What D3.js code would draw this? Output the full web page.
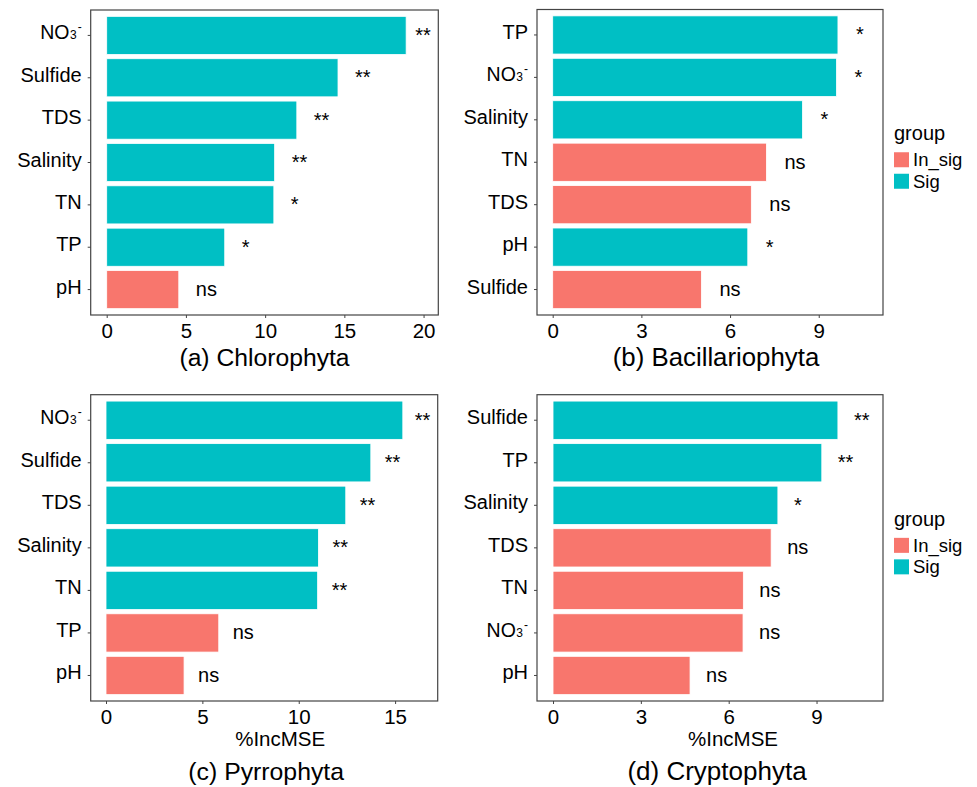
<!DOCTYPE html>
<html>
<head>
<meta charset="utf-8">
<script src="https://cdn.jsdelivr.net/npm/d3@7"></script>
<style>
  html, body { margin: 0; padding: 0; background: #ffffff; }
  svg { display: block; font-family: "Liberation Sans", Arial, sans-serif; }
</style>
</head>
<body>
<svg id="chart" width="977" height="787"></svg>
<script>
// ---------------- data ----------------
const catsA = ["NO3-", "Sulfide", "TDS", "Salinity", "TN", "TP", "pH"];
const valsA = [18.9, 14.6, 12.0, 10.6, 10.55, 7.45, 4.55];
const sigA  = ["**", "**", "**", "**", "*", "*", "ns"];

const catsB = ["TP", "NO3-", "Salinity", "TN", "TDS", "pH", "Sulfide"];
const valsB = [9.65, 9.6, 8.45, 7.23, 6.72, 6.6, 5.03];
const sigB  = ["*", "*", "*", "ns", "ns", "*", "ns"];

const catsC = ["NO3-", "Sulfide", "TDS", "Salinity", "TN", "TP", "pH"];
const valsC = [15.4, 13.74, 12.44, 11.02, 10.98, 5.85, 4.05];
const sigC  = ["**", "**", "**", "**", "**", "ns", "ns"];

const catsD = ["Sulfide", "TP", "Salinity", "TDS", "TN", "NO3-", "pH"];
const valsD = [9.73, 9.18, 7.68, 7.45, 6.5, 6.49, 4.68];
const sigD  = ["**", "**", "*", "ns", "ns", "ns", "ns"];

const ticksA = [0, 5, 10, 15, 20];
const ticksB = [0, 3, 6, 9];
const ticksC = [0, 5, 10, 15];
const ticksD = [0, 3, 6, 9];

const titles = ["(a) Chlorophyta", "(b) Bacillariophyta", "(c) Pyrrophyta", "(d) Cryptophyta"];
const groupNames = ["In_sig", "Sig"];
const xTitle = "%IncMSE";
const legendTitle = "group";

// ---------------- styles / layout ----------------
const colors = { In_sig: "#F8766D", Sig: "#00BFC4" };
const groupOf = s => (s === "ns" ? "In_sig" : "Sig");

const panels = [
  { cats: catsA, vals: valsA, sig: sigA, ticks: ticksA, title: titles[0],
    frame: { x0: 90.7, x1: 438.3, y0: 10, y1: 315 }, domain: [-1.01, 20.93],
    xlab: false, legend: false, gap: 17, titleSize: 24.7, titleDx: 0, xlabDx: 0 },
  { cats: catsB, vals: valsB, sig: sigB, ticks: ticksB, title: titles[1],
    frame: { x0: 537, x1: 883, y0: 9.5, y1: 315 }, domain: [-0.531, 11.174],
    xlab: false, legend: true, gap: 18, titleSize: 25.8, titleDx: 6, xlabDx: 0 },
  { cats: catsC, vals: valsC, sig: sigC, ticks: ticksC, title: titles[2],
    frame: { x0: 90.7, x1: 437.7, y0: 394.7, y1: 701 }, domain: [-0.794, 17.21],
    xlab: true, legend: false, gap: 14, titleSize: 24.8, titleDx: 2, xlabDx: 16 },
  { cats: catsD, vals: valsD, sig: sigD, ticks: ticksD, title: titles[3],
    frame: { x0: 537, x1: 883, y0: 394.7, y1: 701 }, domain: [-0.547, 11.27],
    xlab: true, legend: true, gap: 16, titleSize: 26, titleDx: 7, xlabDx: 23 }
];

const svg = d3.select("#chart");
const FS = 20;

function catLabel(sel, name) {
  if (name === "NO3-") {
    sel.append("tspan").attr("font-size", 19.5).text("NO");
    sel.append("tspan").attr("font-size", 12).attr("dx", 0.5).text("3");
    sel.append("tspan").attr("font-size", 12).attr("dx", 1).attr("dy", -8).text("-");
  } else {
    sel.text(name);
  }
}

panels.forEach(p => {
  const f = p.frame;
  const g = svg.append("g");
  const x = d3.scaleLinear().domain(p.domain).range([f.x0, f.x1]);
  const y = d3.scaleBand().domain(p.cats).range([f.y0, f.y1])
    .paddingInner(0.1).paddingOuter(0.15);

  // bars
  g.selectAll("rect.bar").data(p.cats).enter().append("rect")
    .attr("class", "bar")
    .attr("x", x(0))
    .attr("y", d => y(d))
    .attr("width", (d, i) => x(p.vals[i]) - x(0))
    .attr("height", y.bandwidth())
    .attr("fill", (d, i) => colors[groupOf(p.sig[i])])
    .attr("stroke", "#ffffff")
    .attr("stroke-width", 0.8);

  // significance labels
  g.selectAll("text.sig").data(p.cats).enter().append("text")
    .attr("class", "sig")
    .attr("x", (d, i) => Math.min(x(p.vals[i]) + p.gap, f.x1 - 23))
    .attr("y", d => y(d) + y.bandwidth() / 2 + 6.5)
    .attr("font-size", FS)
    .attr("fill", "#000")
    .text((d, i) => p.sig[i]);

  // frame
  g.append("rect")
    .attr("x", f.x0).attr("y", f.y0)
    .attr("width", f.x1 - f.x0).attr("height", f.y1 - f.y0)
    .attr("fill", "none").attr("stroke", "#444").attr("stroke-width", 1.2);

  // y axis ticks & labels
  p.cats.forEach(c => {
    const cy = y(c) + y.bandwidth() / 2;
    g.append("line").attr("x1", f.x0 - 3).attr("x2", f.x0)
      .attr("y1", cy).attr("y2", cy).attr("stroke", "#444").attr("stroke-width", 1);
    const t = g.append("text")
      .attr("x", f.x0 - 9).attr("y", cy + 4)
      .attr("text-anchor", "end").attr("font-size", FS).attr("fill", "#000");
    catLabel(t, c);
  });

  // x axis via d3 axis
  const ax = g.append("g").attr("transform", `translate(0,${f.y1})`)
    .call(d3.axisBottom(x).tickValues(p.ticks).tickSize(3).tickPadding(5).tickFormat(d3.format("d")));
  ax.select(".domain").remove();
  ax.selectAll(".tick line").attr("stroke", "#444");
  ax.selectAll(".tick text").attr("font-size", 20.5).attr("fill", "#000")
    .attr("font-family", "Liberation Sans, Arial, sans-serif");

  const cx = (f.x0 + f.x1) / 2;
  if (p.xlab) {
    g.append("text").attr("x", cx + p.xlabDx).attr("y", f.y1 + 45)
      .attr("text-anchor", "middle").attr("font-size", 20.5).attr("fill", "#000").text(xTitle);
  }
  g.append("text").attr("x", cx + p.titleDx).attr("y", p.xlab ? f.y1 + 79 : f.y1 + 51)
    .attr("text-anchor", "middle").attr("font-size", p.titleSize).attr("fill", "#000").text(p.title);

  if (p.legend) {
    const lx = 894, ly = (f.y0 + f.y1) / 2 - 22;
    const lg = svg.append("g");
    lg.append("text").attr("x", lx).attr("y", ly).attr("font-size", 20).attr("fill", "#000").text(legendTitle);
    groupNames.forEach((gn, i) => {
      lg.append("rect").attr("x", lx).attr("y", ly + 12 + i * 21.5)
        .attr("width", 15).attr("height", 15).attr("fill", colors[gn]);
      lg.append("text").attr("x", lx + 19).attr("y", ly + 12 + i * 21.5 + 14)
        .attr("font-size", 18.5).attr("fill", "#000").text(gn);
    });
  }
});
</script>
</body>
</html>
